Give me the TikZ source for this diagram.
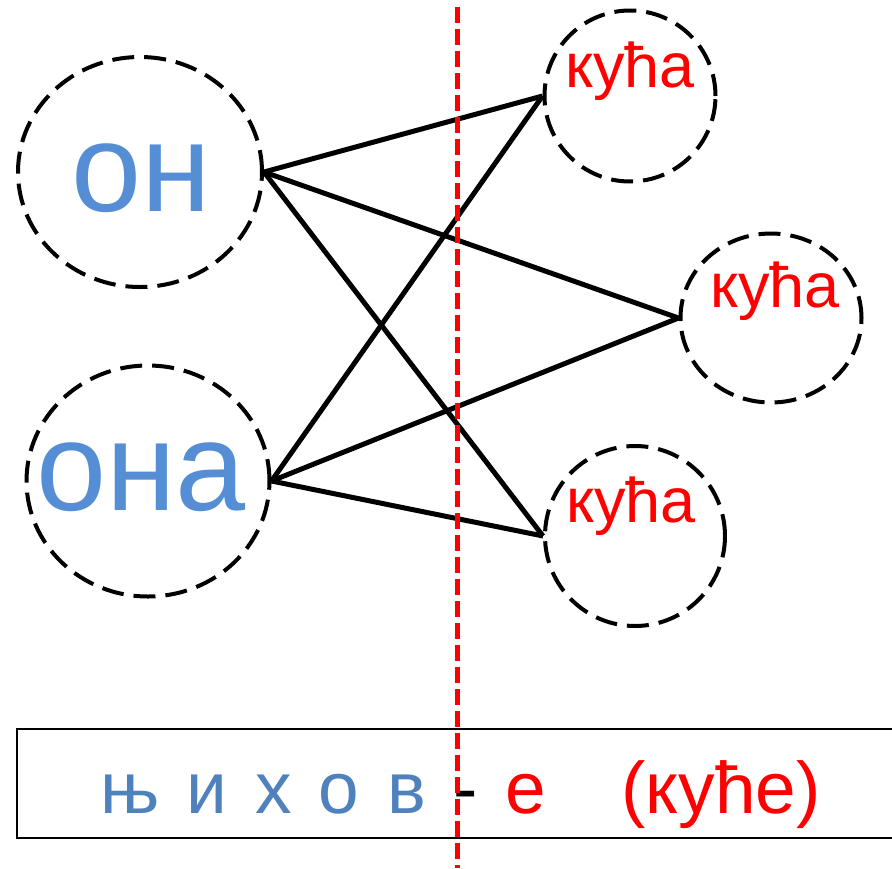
\documentclass[tikz,border=0pt]{standalone}
\usepackage{fontspec}
\setmainfont{Liberation Sans}
\usepackage{tikz}
\usetikzlibrary{shapes.geometric}
\definecolor{pronblue}{RGB}{85,142,213}
\definecolor{suffblue}{RGB}{79,129,189}

\begin{document}
\begin{tikzpicture}[x=1pt,y=-1pt,
	ring/.style={draw, ellipse, dash pattern=on 22pt off 10pt, line width=4pt, inner sep=0pt},
	link/.style={line width=5pt},
	pron/.style={text=pronblue, font=\fontsize{126}{126}\selectfont, inner sep=0pt, anchor=base},
	house/.style={text=red, font=\fontsize{63}{63}\selectfont, inner sep=0pt, anchor=base},
	letter/.style={font=\fontsize{73}{73}\selectfont, inner sep=0pt, anchor=base}]
	\useasboundingbox (0,0) rectangle (892,868);

	% Left circles: pronouns
	\node[ring, minimum width=244pt, minimum height=230pt] (on) at (140,172) {};
	\node[pron] (onw) at (141,211) {он};
	\node[ring, minimum width=243pt, minimum height=231pt] (ona) at (148,481) {};
	\node[pron] (onaw) at (141,510) {она};

	% Right circles: houses
	\node[ring, minimum width=171pt, minimum height=171pt] (k1) at (630,96) {};
	\node[house] (k1w) at (630,87) {кућа};
	\node[ring, minimum width=181pt, minimum height=169pt] (k2) at (771,318) {};
	\node[house] (k2w) at (775,307) {кућа};
	\node[ring, minimum width=180pt, minimum height=180pt] (k3) at (635,536) {};
	\node[house] (k3w) at (631,522) {кућа};

	% Connectors
	\draw[link] (on.east) -- (k1.west);
	\draw[link] (on.east) -- (k2.west);
	\draw[link] (on.east) -- (k3.west);
	\draw[link] (ona.east) -- (k1.west);
	\draw[link] (ona.east) -- (k2.west);
	\draw[link] (ona.east) -- (k3.west);

	% Bottom box
	\draw[line width=2pt] (17,729) rectangle (905,838);
	\foreach \l/\x in {њ/130, и/207, х/274, о/339, в/407}
		\node[letter, text=suffblue] (s\x) at (\x,813) {\l};
	\node[letter] (hyph) at (466,813) {-};
	\node[letter, text=red] (suf) at (526,813) {е};
	\node[letter, text=red] (full) at (721,813) {(куће)};

	% Dividing line
	\coordinate (cuttop) at (457,7);
	\coordinate (cutbot) at (457,868);
	\draw[red, line width=5pt, dash pattern=on 16pt off 6pt] (cuttop) -- (cutbot);

\end{tikzpicture}
\end{document}
